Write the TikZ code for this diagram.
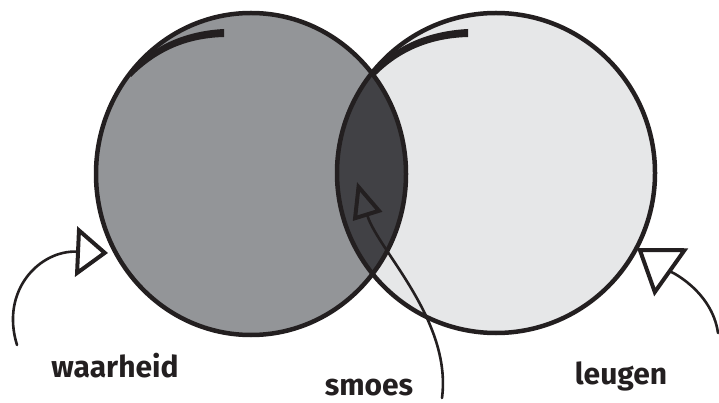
\documentclass[tikz,border=0pt]{standalone}
\usepackage{fontspec}
\setmainfont{Fira Sans}
\usepackage{xcolor}
\usepackage{tikz}
\usetikzlibrary{positioning, arrows.meta}

\definecolor{truthgray}{HTML}{939598}
\definecolor{liegray}{HTML}{E6E7E8}
\definecolor{lensgray}{HTML}{414145}
\definecolor{ink}{HTML}{231F20}

\begin{document}
\begin{tikzpicture}[
  x=1pt, y=-1pt,
  word/.style={font=\fontsize{30}{32}\selectfont\bfseries, text=ink, inner sep=0pt},
  rim/.style={draw=ink, line width=4.5pt},
  shine/.style={fill=ink},
  arr/.style={draw=ink, line width=2.6pt, line cap=round},
]
\useasboundingbox (0,0) rectangle (719,403);

% the two sets
\fill[truthgray] (251,174) ellipse [x radius=155pt, y radius=161pt];
\fill[liegray] (496,173) ellipse [x radius=159pt, y radius=160pt];
\begin{scope}
  \clip (251,174) ellipse [x radius=155pt, y radius=161pt];
  \fill[lensgray] (496,173) ellipse [x radius=159pt, y radius=160pt];
\end{scope}
\draw[rim] (251,174) ellipse [x radius=155pt, y radius=161pt];
\draw[rim] (496,173) ellipse [x radius=159pt, y radius=160pt];

% highlights
\fill[shine] (129,74) .. controls (150,46) and (185,31) .. (224,29) -- (224,37)
  .. controls (188,38) and (158,50) .. (131,77) -- cycle;
\fill[shine] (372,74) .. controls (392,46) and (428,31) .. (468,29) -- (468,37)
  .. controls (432,38) and (400,50) .. (374,77) -- cycle;

% pointers
\coordinate (truthfoot) at (17,345);
\coordinate (truthtip) at (108,253);
\coordinate (excusefoot) at (442,398);
\coordinate (excusetip) at (357,182);
\coordinate (liefoot) at (718,333);
\coordinate (lietip) at (637,248);

\draw[arr, -{Triangle[open, length=32pt, width=50pt, line width=4pt]}]
  (truthfoot) .. controls (0,290) and (40,250) .. (truthtip);
\draw[arr, -{Triangle[open, length=36pt, width=30pt, line width=4pt]}]
  (excusefoot) .. controls (452,320) and (378,250) .. (excusetip);
\draw[arr, -{Triangle[open, length=42pt, width=58pt, line width=4pt]}]
  (liefoot) .. controls (712,290) and (668,270) .. (lietip);

% labels
\node[word] (truth) at (115,366) {waarheid};
\node[word] (excuse) at (369,388) {smoes};
\node[word] (lie) at (621,376) {leugen};
\end{tikzpicture}
\end{document}
